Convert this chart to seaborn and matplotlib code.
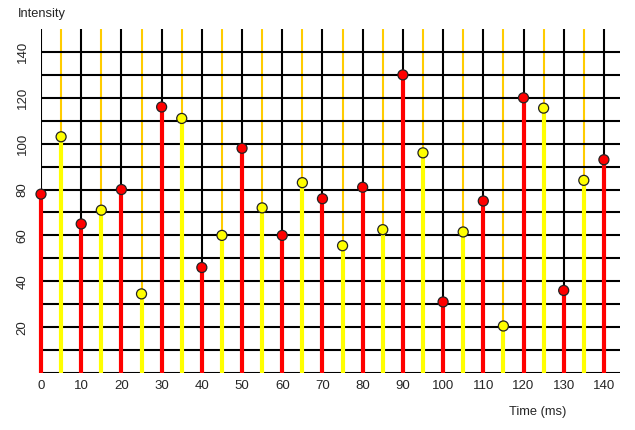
import numpy as np
import pandas as pd
import matplotlib
matplotlib.use('Agg')
import matplotlib.pyplot as plt
import seaborn as sns

# values
red_times = [0, 10, 20, 30, 40, 50, 60, 70, 80, 90, 100, 110, 120, 130, 140]
red_vals = [78, 65, 80, 116, 46, 98, 60, 76, 81, 130, 31, 75, 120, 36, 93]
yellow_times = [5, 15, 25, 35, 45, 55, 65, 75, 85, 95, 105, 115, 125, 135]
yellow_vals = [103, 71, 34.5, 111, 60, 72, 83, 55.5, 62.5, 96, 61.5, 20.5, 115.5, 84]

major_x = list(range(0, 141, 10))
minor_x = list(range(5, 136, 10))
grid_y = list(range(0, 141, 10))
label_y = [20, 40, 60, 80, 100, 120, 140]

sns.set_style('white')
plt.rcParams['font.family'] = ['Liberation Sans', 'DejaVu Sans']

df = pd.concat([
    pd.DataFrame({'time': red_times, 'value': red_vals, 'group': 'red'}),
    pd.DataFrame({'time': yellow_times, 'value': yellow_vals, 'group': 'yellow'}),
])
colors = {'red': '#ff0000', 'yellow': '#ffff00'}

fig = plt.figure(figsize=(6.35, 4.3), dpi=100)
ax = fig.add_axes([41 / 635, 1 - 373 / 430, 579 / 635, 344 / 430])

# grid
for x in major_x:
    ax.axvline(x, color='black', lw=1.5, zorder=1)
for x in minor_x:
    ax.axvline(x, color='#ffcc00', lw=1.5, zorder=1)
for y in grid_y:
    ax.axhline(y, color='black', lw=1.5, zorder=1)

# stems
for g, sub in df.groupby('group'):
    ax.vlines(sub['time'], 0, sub['value'], color=colors[g], lw=3, zorder=2,
              clip_on=False)

sns.scatterplot(data=df, x='time', y='value', hue='group', palette=colors,
                s=52, edgecolor='#222222', linewidth=0.9, legend=False,
                zorder=3, ax=ax, clip_on=False)

ax.set_xlim(0, 144)
ax.set_ylim(0, 150)
ax.set_xticks(major_x)
ax.set_yticks(label_y)
ax.set_yticklabels([str(v) for v in label_y], rotation=90, va='center')
ax.tick_params(axis='both', length=0, labelsize=9.5)
ax.tick_params(axis='y', pad=9)
ax.tick_params(axis='x', pad=5)
ax.set_xlabel('')
ax.set_ylabel('')
for s in ax.spines.values():
    s.set_visible(False)

fig.text(18 / 635, 1 - 14 / 430, 'Intensity', ha='left', va='center', fontsize=9.3)
fig.text(538 / 635, 1 - 412 / 430, 'Time (ms)', ha='center', va='center', fontsize=9.3)

fig.savefig('out.png', dpi=100)
